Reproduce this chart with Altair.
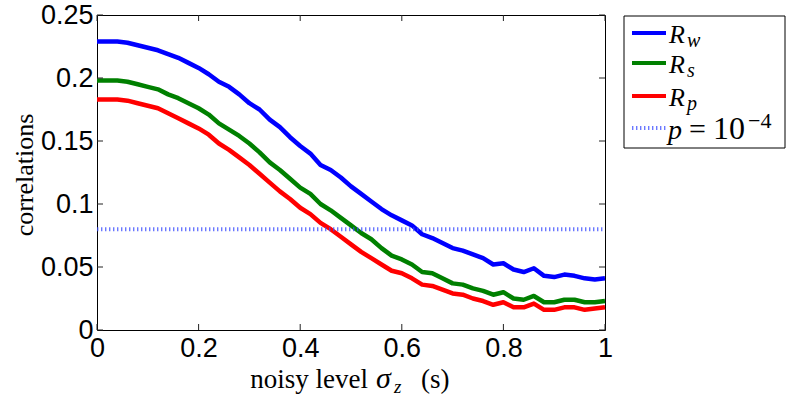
import altair as alt
import pandas as pd

xs = [round(i * 0.02, 2) for i in range(51)]
R_w = [0.229, 0.229, 0.229, 0.228, 0.226, 0.224, 0.222, 0.219, 0.216, 0.212,
       0.208, 0.203, 0.197, 0.193, 0.187, 0.180, 0.175, 0.167, 0.161, 0.153,
       0.146, 0.140, 0.131, 0.127, 0.121, 0.114, 0.108, 0.102, 0.096, 0.091,
       0.087, 0.083, 0.076, 0.073, 0.069, 0.065, 0.063, 0.060, 0.057, 0.052,
       0.053, 0.048, 0.046, 0.049, 0.043, 0.042, 0.044, 0.043, 0.041, 0.040, 0.041]
R_s = [0.198, 0.198, 0.198, 0.197, 0.195, 0.193, 0.191, 0.187, 0.184, 0.180,
       0.176, 0.171, 0.164, 0.159, 0.154, 0.148, 0.141, 0.133, 0.127, 0.120,
       0.113, 0.108, 0.100, 0.095, 0.089, 0.083, 0.077, 0.072, 0.065, 0.059,
       0.056, 0.052, 0.046, 0.045, 0.041, 0.037, 0.036, 0.033, 0.031, 0.028,
       0.030, 0.025, 0.024, 0.027, 0.022, 0.022, 0.024, 0.024, 0.022, 0.022, 0.023]
R_p = [0.183, 0.183, 0.183, 0.182, 0.180, 0.178, 0.176, 0.172, 0.168, 0.164,
       0.160, 0.155, 0.148, 0.143, 0.137, 0.131, 0.124, 0.117, 0.110, 0.104,
       0.097, 0.092, 0.085, 0.080, 0.074, 0.068, 0.062, 0.057, 0.052, 0.047,
       0.045, 0.041, 0.036, 0.035, 0.032, 0.029, 0.028, 0.025, 0.023, 0.020,
       0.022, 0.018, 0.018, 0.021, 0.016, 0.016, 0.018, 0.018, 0.016, 0.017, 0.018]
series_names = ["Rw", "Rs", "Rp"]
series_colors = ["#0000ff", "#008000", "#ff0000"]
threshold = 0.08
x_ticks = [0, 0.2, 0.4, 0.6, 0.8, 1]
y_ticks = [0, 0.05, 0.1, 0.15, 0.2, 0.25]

W, H = 508, 315

rows = []
for name, vals in zip(series_names, [R_w, R_s, R_p]):
    for x, v in zip(xs, vals):
        rows.append({"x": x, "y": v, "s": name})
df = pd.DataFrame(rows)

xsc = alt.Scale(domain=[0, 1], nice=False)
ysc = alt.Scale(domain=[0, 0.25], nice=False)
one = pd.DataFrame({"a": [0]})

lines = alt.Chart(df).mark_line(strokeWidth=4.5, strokeJoin="round").encode(
    x=alt.X("x:Q", scale=xsc, title=None,
            axis=alt.Axis(values=x_ticks, labelFlush=False,
                          labelExpr="datum.value == 0 ? '0' : datum.value == 1 ? '1' : format(datum.value, '.1f')")),
    y=alt.Y("y:Q", scale=ysc, title=None,
            axis=alt.Axis(values=y_ticks, labelFlush=False,
                          labelExpr="datum.value == 0 ? '0' : (datum.value*100) % 10 == 0 ? format(datum.value, '.1f') : format(datum.value, '.2f')")),
    color=alt.Color("s:N", scale=alt.Scale(domain=series_names, range=series_colors), legend=None),
    detail="s:N",
)

DOT = dict(color="#3a4cff", strokeWidth=4, strokeDash=[1.4, 2.6], opacity=0.75)
thr = alt.Chart(pd.DataFrame({"y": [threshold]})).mark_rule(**DOT).encode(
    y=alt.Y("y:Q", scale=ysc), x=alt.value(0), x2=alt.value(W))

xt = pd.DataFrame({"t": x_ticks})
yt = pd.DataFrame({"t": y_ticks})
tick_color = "#222222"
ticks = [
    alt.Chart(xt).mark_rule(color=tick_color, strokeWidth=1).encode(x=alt.X("t:Q", scale=xsc), y=alt.value(H), y2=alt.value(H - 6)),
    alt.Chart(xt).mark_rule(color=tick_color, strokeWidth=1).encode(x=alt.X("t:Q", scale=xsc), y=alt.value(0), y2=alt.value(6)),
    alt.Chart(yt).mark_rule(color=tick_color, strokeWidth=1).encode(y=alt.Y("t:Q", scale=ysc), x=alt.value(0), x2=alt.value(6)),
    alt.Chart(yt).mark_rule(color=tick_color, strokeWidth=1).encode(y=alt.Y("t:Q", scale=ysc), x=alt.value(W), x2=alt.value(W - 6)),
]

def txt(s, x, y, size, style="normal", align="left", angle=0, baseline="alphabetic"):
    kw = dict(font="Liberation Serif", fontSize=size, fontStyle=style, align=align,
              baseline=baseline, color="black")
    if angle:
        kw["angle"] = angle
    return alt.Chart(one).mark_text(**kw).encode(
        x=alt.value(x), y=alt.value(y), text=alt.value(s))

# axis titles
titles = [
    txt("noisy level", 271, 373, 27, align="right"),
    txt("σ", 279, 373, 30, style="italic"),
    txt("z", 297, 378, 19, style="italic"),
    txt("(s)", 324, 373, 27),
    txt("correlations", -72, 160, 26, angle=270, align="center", baseline="middle"),
]

# legend
LX = 527
leg_box = alt.Chart(one).mark_rect(fill="white", stroke="black", strokeWidth=1).encode(
    x=alt.value(LX), x2=alt.value(LX + 161), y=alt.value(1), y2=alt.value(133))
leg_items = []
line_ys = [18, 48, 81]
for c, sub, yy in zip(series_colors, ["w", "s", "p"], line_ys):
    leg_items.append(alt.Chart(one).mark_rule(color=c, strokeWidth=4).encode(
        x=alt.value(LX + 8), x2=alt.value(LX + 42), y=alt.value(yy)))
    leg_items.append(txt("R", LX + 45, yy + 10, 26, style="italic"))
    leg_items.append(txt(sub, LX + 63, yy + 14, 20, style="italic"))
yy = 113
leg_items.append(alt.Chart(one).mark_rule(**DOT).encode(
    x=alt.value(LX + 8), x2=alt.value(LX + 42), y=alt.value(yy)))
leg_items.append(txt("p", LX + 44, yy + 11, 28, style="italic"))
leg_items.append(txt("=", LX + 65, yy + 11, 30))
leg_items.append(txt("10", LX + 89, yy + 11, 32))
leg_items.append(txt("−4", LX + 124, yy, 22))

chart = alt.layer(lines, thr, *ticks, *titles, leg_box, *leg_items).properties(
    width=W, height=H,
    autosize=alt.AutoSizeParams(type="none"),
    padding={"left": 97, "top": 15, "right": 184, "bottom": 68},
).configure_view(stroke="black", strokeWidth=1).configure_axis(
    domain=False, ticks=False, grid=False,
    labelFont="Liberation Sans", labelFontSize=27, labelColor="black",
).configure_axisX(labelPadding=5).configure_axisY(labelPadding=4)

chart.save("out.html", embed_options={"renderer": "svg", "actions": False})
